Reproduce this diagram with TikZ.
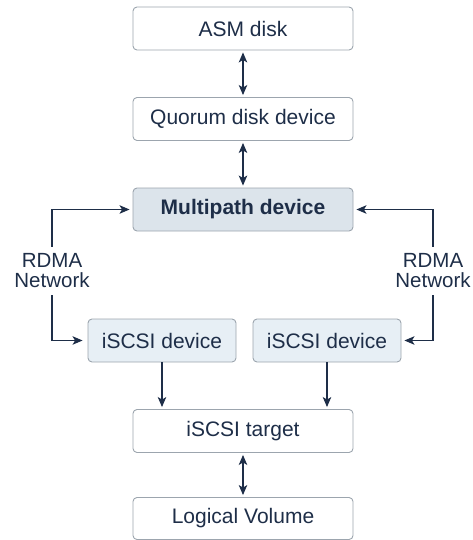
\documentclass[tikz,border=0pt]{standalone}
\usepackage{fontspec}
\setmainfont{Liberation Sans}
\usetikzlibrary{arrows.meta}
\definecolor{navy}{HTML}{1E2E48}
\definecolor{bordergray}{HTML}{9CA5AE}
\definecolor{mpfill}{HTML}{DCE4EB}
\definecolor{isfill}{HTML}{E7EFF5}
\tikzset{
  box/.style={draw=bordergray, line width=0.9pt, rounded corners=4pt, fill=white,
    text=navy, font=\fontsize{21}{21}\selectfont, inner sep=0pt,
    minimum width=220pt, minimum height=43pt},
  devbox/.style={box, fill=isfill, minimum width=148pt},
  mpbox/.style={box, fill=mpfill, font=\fontsize{21}{21}\selectfont\bfseries},
  netlabel/.style={text=navy, font=\fontsize{20.5}{20}\selectfont, align=center, inner sep=0pt, minimum height=48pt},
  conn/.style={draw=navy, line width=1.2pt, -{Stealth[length=10pt,width=8.5pt,inset=2.5pt]}},
  dconn/.style={draw=navy, line width=1.2pt, {Stealth[length=10pt,width=8.5pt,inset=2.5pt]}-{Stealth[length=10pt,width=8.5pt,inset=2.5pt]}, shorten <=2pt, shorten >=2pt}
}
\begin{document}
\begin{tikzpicture}[x=1pt,y=-1pt]
\useasboundingbox (0,0) rectangle (473,540);
\node[box] (asm) at (243,28.5) {ASM disk};
\node[box] (quorum) at (243,119) {Quorum disk device};
\node[mpbox] (multi) at (243,209.5) {Multipath device};
\node[devbox] (isl) at (162,340.5) {iSCSI device};
\node[devbox] (isr) at (327,340.5) {iSCSI device};
\node[box] (target) at (243,431) {iSCSI target};
\node[box, minimum height=42pt] (lv) at (243,518.5) {Logical Volume};
\node[netlabel] (lnet) at (52,271) {RDMA\\Network};
\node[netlabel] (rnet) at (433,271) {RDMA\\Network};

\draw[dconn] (asm.south) -- (quorum.north);
\draw[dconn] (quorum.south) -- (multi.north);
\draw[dconn] (target.south) -- (lv.north);

\draw[conn, shorten >=3pt] (lnet.north) |- (multi.west);
\draw[conn, shorten >=5pt] (lnet.south) |- (isl.west);
\draw[conn, shorten >=3pt] (rnet.north) |- (multi.east);
\draw[conn, shorten >=3pt] (rnet.south) |- (isr.east);

\draw[conn, shorten >=2pt] (isl.south) -- (isl.south |- target.north);
\draw[conn, shorten >=2pt] (isr.south) -- (isr.south |- target.north);
\end{tikzpicture}
\end{document}
